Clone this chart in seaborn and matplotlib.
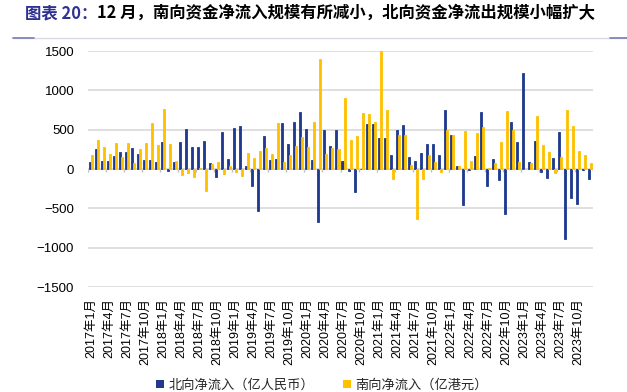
import numpy as np
import pandas as pd
import matplotlib.pyplot as plt
import seaborn as sns
from matplotlib.lines import Line2D
from matplotlib.patches import Patch

# monthly net flows, 2017-01 .. 2023-12
years = list(range(2017, 2024))
months = [f'{y}年{m}月' for y in years for m in range(1, 13)]

north = [85, 258, 101, 101, 160, 220, 220, 270, 194, 118, 118, 85,
         346, -25, 93, 346, 507, 279, 279, 355, 80, -101, 469, 131,
         520, 549, 42, -220, -537, 423, 118, 131, 587, 317, 600, 727,
         507, 114, -676, 499, 296, 499, 101, -21, -296, 5, 575, 566,
         397, 397, 182, 490, 553, 152, 106, 203, 321, 321, 182, 752,
         435, 38, -461, -13, 169, 727, -211, 127, -135, -575, 596, 346,
         1221, 89, 351, -42, -118, 139, 469, -896, -372, -448, -13, -127]

south = [182, 363, 275, 194, 330, 152, 325, 76, 253, 330, 579, 300,
         765, 321, 101, -76, -51, -101, 17, -279, 68, 89, -59, 34,
         -34, -84, 203, 135, 228, 262, 194, 583, 93, 182, 292, 410,
         275, 600, 1394, 194, 262, 253, 904, 372, 414, 706, 701, 600,
         1500, 748, -127, 427, 431, 46, -634, -127, 177, 93, -42, 499,
         435, 42, 486, 106, 461, 528, 17, 80, 346, 735, 499, 93,
         5, 80, 668, 308, 220, -51, 156, 752, 545, 228, 182, 80]

series_names = ['北向净流入（亿人民币）', '南向净流入（亿港元）']
colors = ['#1F3A8F', '#FFC000']

tick_positions = list(range(0, len(months), 3))
tick_labels = [months[i] for i in tick_positions]

df = pd.DataFrame({
    'month': months * 2,
    'value': north + south,
    'series': [series_names[0]] * len(months) + [series_names[1]] * len(months),
})

sns.set_theme(style='white')
plt.rcParams['font.family'] = ['Liberation Sans', 'Noto Sans CJK SC', 'DejaVu Sans']

fig = plt.figure(figsize=(6.27, 3.92), dpi=100)
ax = fig.add_axes([88 / 627, 1 - 287 / 392, (593 - 88) / 627, (287 - 51) / 392])

sns.barplot(data=df, x='month', y='value', hue='series', order=months,
            hue_order=series_names, palette=colors, width=0.67,
            saturation=1, legend=False, ax=ax)
# thin bars: give them an outline in their own colour so none fade out
for bar in ax.patches:
    bar.set_edgecolor(bar.get_facecolor())
    bar.set_linewidth(0.6)

ax.set_ylim(-1500, 1500)
ax.set_xlim(-0.5, len(months) - 0.5)
ax.set_yticks(range(-1500, 1501, 500))
ax.yaxis.grid(True, color='#D9D9D9', lw=1.2)
ax.set_axisbelow(True)
for s in ax.spines.values():
    s.set_visible(False)

# category axis line at zero with small group ticks
ax.axhline(0, color='#D9D9D9', lw=1.2, zorder=0.5)
ax.vlines([p - 0.5 for p in tick_positions] + [len(months) - 0.5], -40, 0,
          color='#BFBFBF', lw=1, zorder=0.5)

ax.set_xticks(tick_positions)
ax.set_xticklabels(tick_labels, rotation=90, fontsize=9, color='#000000')
ax.tick_params(axis='x', length=0, pad=8)
ax.tick_params(axis='y', length=0, pad=10, labelsize=9.5, labelcolor='#000000')
ax.set_xlabel('')
ax.set_ylabel('')

handles = [Patch(facecolor=c, edgecolor='none') for c in colors]
fig.legend(handles, series_names, loc='center', bbox_to_anchor=(322 / 627, 1 - 385 / 392),
           ncol=2, frameon=False, handlelength=0.6, handleheight=0.6,
           handletextpad=0.3, columnspacing=2.2,
           prop={'family': ['Noto Sans CJK SC'], 'size': 9.5})

# title
fig.text(25 / 627, 1 - 13 / 392, '图表 20：', color='#2E3192', fontsize=11.8,
         fontweight='bold', va='center', family=['Noto Sans CJK SC'])
fig.text(97 / 627, 1 - 13 / 392, '12 月，南向资金净流入规模有所减小，北向资金净流出规模小幅扩大',
         color='#000000', fontsize=11.8, fontweight='bold', va='center',
         family=['Noto Sans CJK SC'])

# decorative rule under the title
y_rule = 1 - 37.5 / 392
fig.add_artist(Line2D([13 / 627, 1], [y_rule, y_rule], color='#DADAE6', lw=1))
fig.add_artist(Line2D([13 / 627, 34 / 627], [y_rule, y_rule], color='#7B7BB8', lw=1.2))
fig.add_artist(Line2D([610 / 627, 1], [y_rule, y_rule], color='#7B7BB8', lw=1.2))

fig.savefig('out.png', dpi=100)
